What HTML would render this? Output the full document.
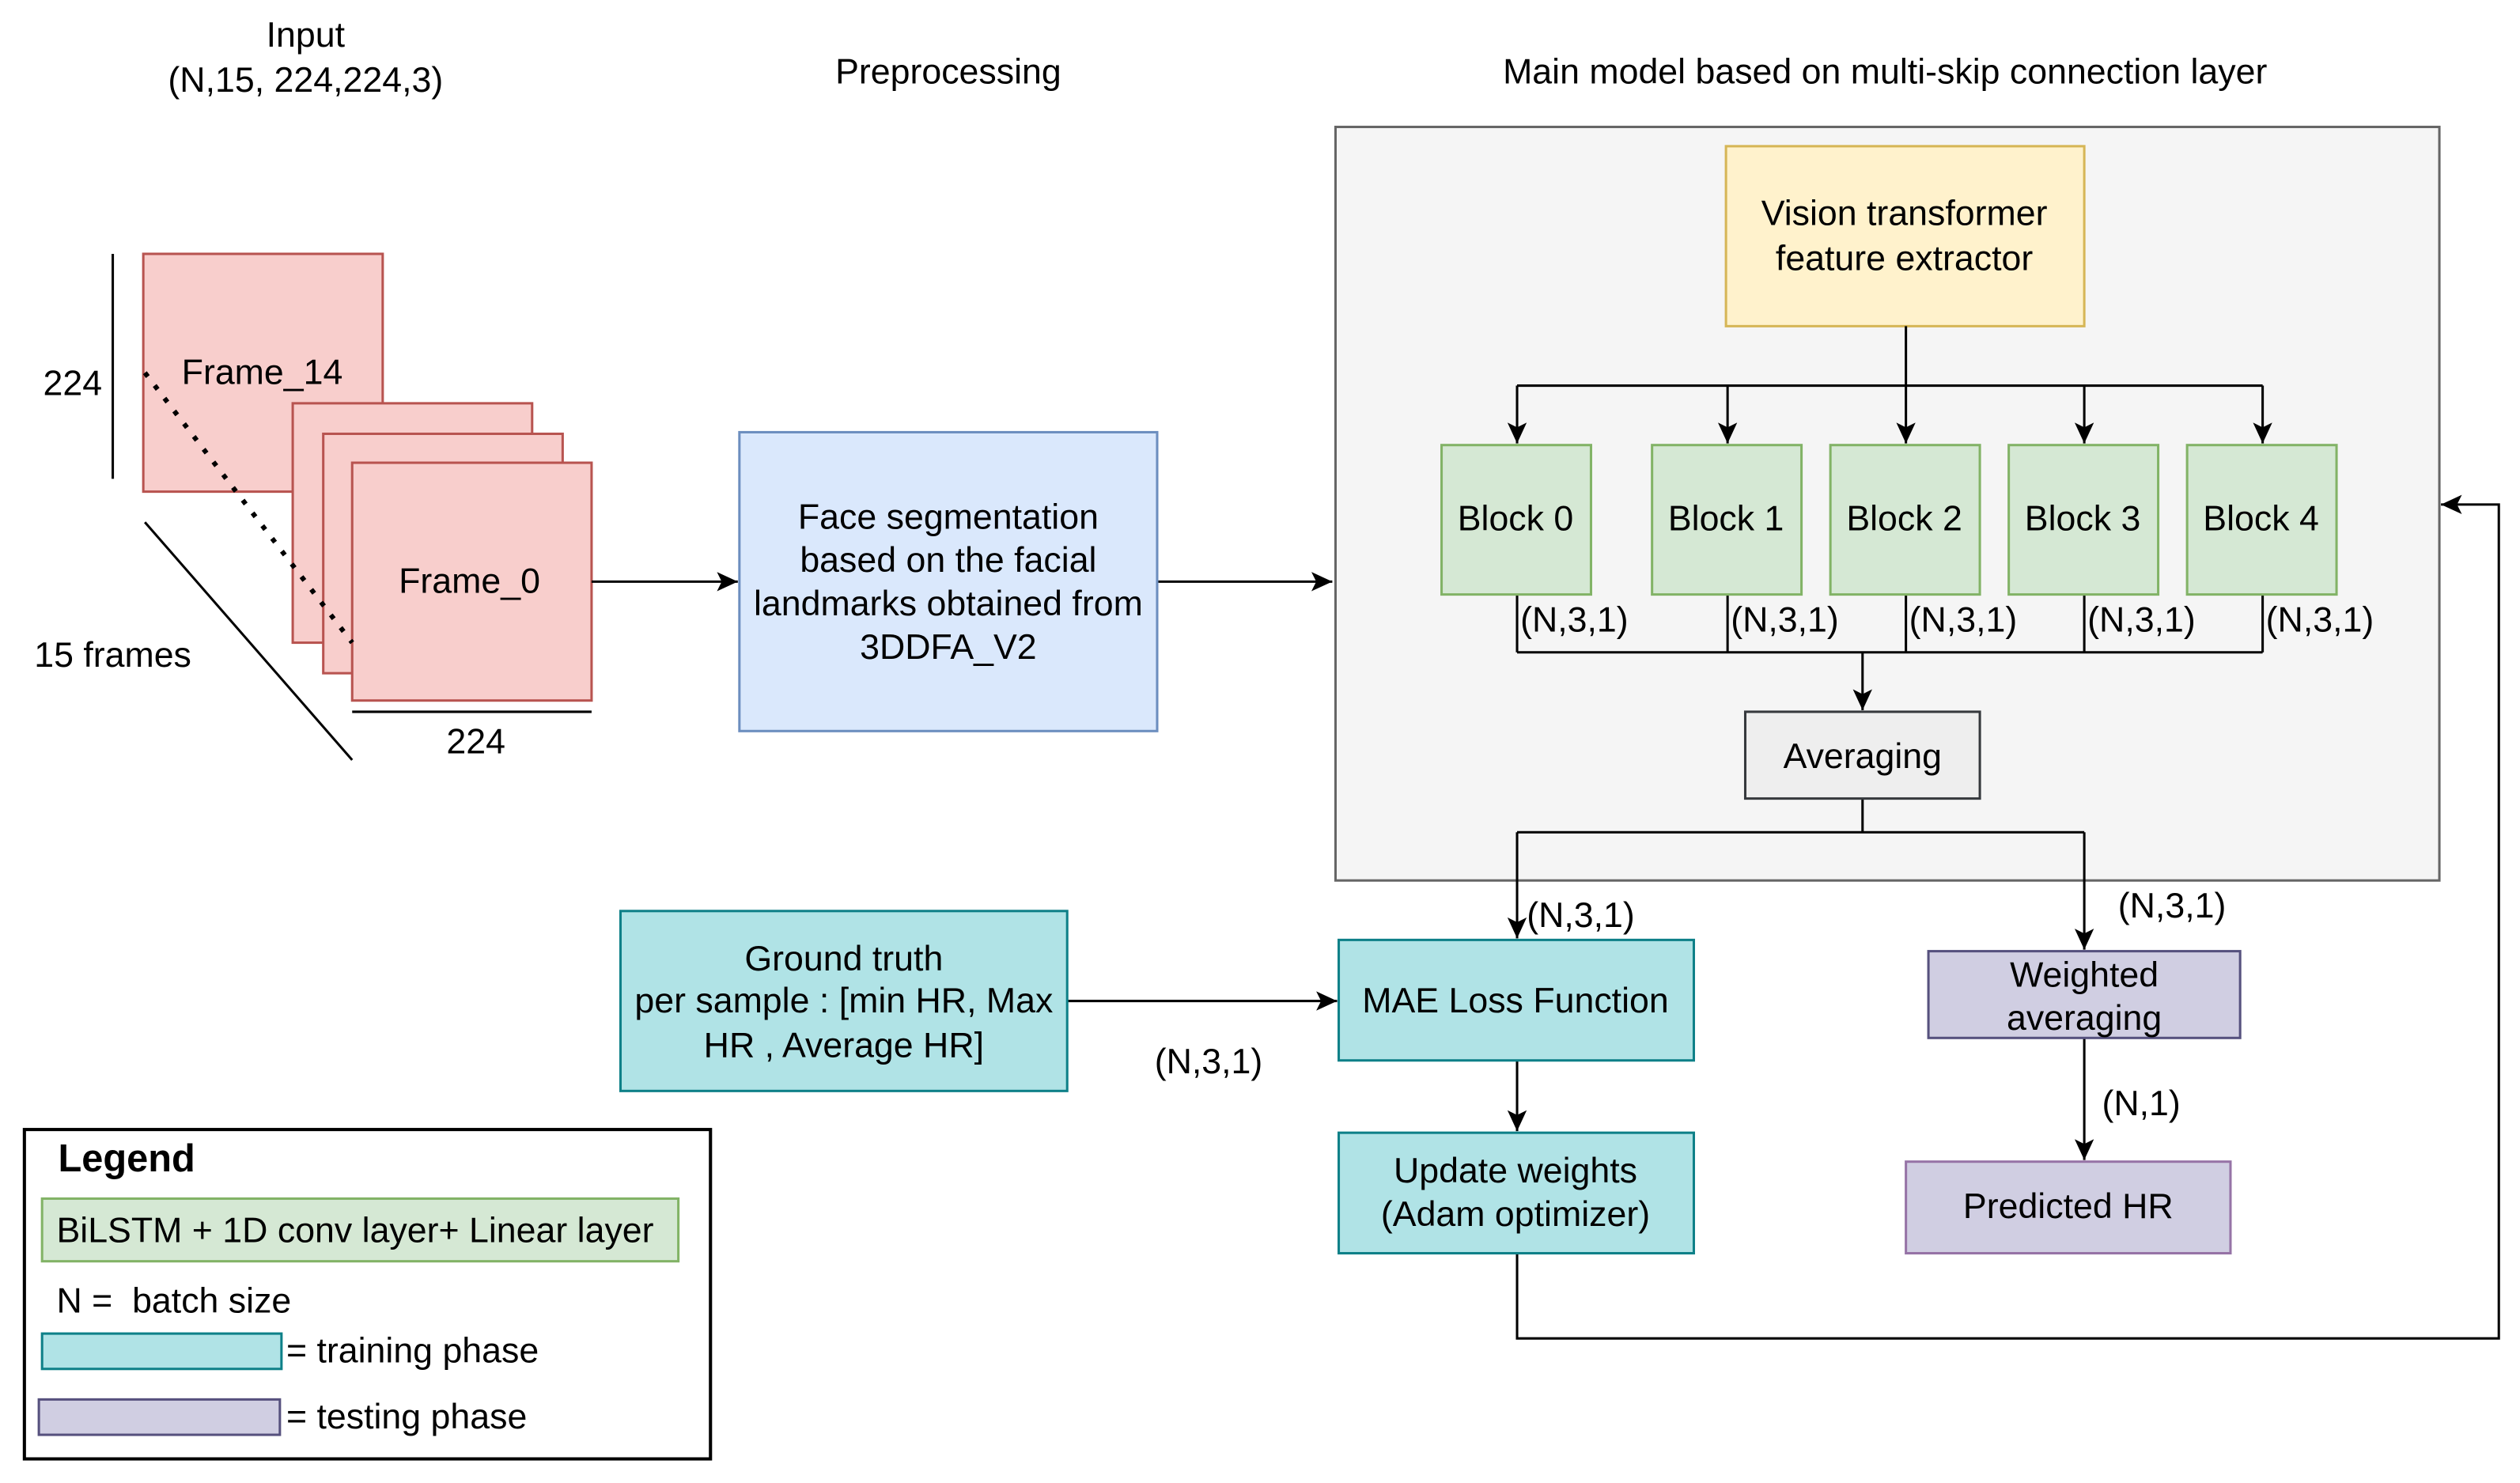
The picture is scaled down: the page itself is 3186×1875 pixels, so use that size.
<!DOCTYPE html>
<html><head><meta charset="utf-8"><style>
html,body{margin:0;padding:0;background:#fff;}
svg{display:block;}
text{font-family:"Liberation Sans",Arial,sans-serif;font-size:22px;fill:#000;}
</style></head><body>
<svg width="3186" height="1875" viewBox="0 0 1568 923" xmlns="http://www.w3.org/2000/svg">
<defs><marker id="a" markerWidth="14" markerHeight="14" refX="13" refY="7" orient="auto" markerUnits="userSpaceOnUse"><path d="M0,1 L13,7 L0,13 L3,7 z" fill="#000"/></marker></defs>
<g text-anchor="middle">
<text x="190" y="29">Input</text>
<text x="190" y="57">(N,15, 224,224,3)</text>
<text x="590" y="52">Preprocessing</text>
<text x="1173" y="52">Main model based on multi-skip connection layer</text>
</g>
<g fill="#f8cecc" stroke="#b85450" stroke-width="1.5">
<rect x="89" y="158" width="149" height="148"/>
<rect x="182" y="251" width="149" height="149"/>
<rect x="201" y="270" width="149" height="149"/>
<rect x="219" y="288" width="149" height="148"/>
</g>
<text x="163" y="239" text-anchor="middle">Frame_14</text>
<text x="292" y="369" text-anchor="middle">Frame_0</text>
<line x1="70" y1="158" x2="70" y2="298" stroke="#000" stroke-width="1.5"/>
<text x="45" y="246" text-anchor="middle">224</text>
<line x1="90" y1="325" x2="219" y2="473" stroke="#000" stroke-width="1.5"/>
<text x="70" y="415" text-anchor="middle">15 frames</text>
<line x1="219" y1="443" x2="368" y2="443" stroke="#000" stroke-width="1.5"/>
<text x="296" y="469" text-anchor="middle">224</text>
<line x1="90" y1="232" x2="219" y2="400" stroke="#000" stroke-width="3" stroke-dasharray="3,7"/>
<g stroke="#000" stroke-width="1.5" fill="none">
<line x1="368" y1="362" x2="459" y2="362" marker-end="url(#a)"/>
<line x1="720" y1="362" x2="829" y2="362" marker-end="url(#a)"/>
</g>
<rect x="460" y="269" width="260" height="186" fill="#dae8fc" stroke="#6c8ebf" stroke-width="1.5"/>
<g text-anchor="middle">
<text x="590" y="329">Face segmentation</text>
<text x="590" y="356">based on the facial</text>
<text x="590" y="383">landmarks obtained from</text>
<text x="590" y="410">3DDFA_V2</text>
</g>
<rect x="831" y="79" width="687" height="469" fill="#f5f5f5" stroke="#666" stroke-width="1.5"/>
<rect x="1074" y="91" width="223" height="112" fill="#fff2cc" stroke="#d6b656" stroke-width="1.5"/>
<text x="1185" y="140" text-anchor="middle">Vision transformer</text>
<text x="1185" y="168" text-anchor="middle">feature extractor</text>
<g stroke="#000" stroke-width="1.5" fill="none">
<line x1="1186" y1="203" x2="1186" y2="240"/>
<line x1="944" y1="240" x2="1408" y2="240"/>
<line x1="944" y1="240" x2="944" y2="276" marker-end="url(#a)"/>
<line x1="1075" y1="240" x2="1075" y2="276" marker-end="url(#a)"/>
<line x1="1186" y1="240" x2="1186" y2="276" marker-end="url(#a)"/>
<line x1="1297" y1="240" x2="1297" y2="276" marker-end="url(#a)"/>
<line x1="1408" y1="240" x2="1408" y2="276" marker-end="url(#a)"/>
<path d="M944,370V406M1075,370V406M1186,370V406M1297,370V406M1408,370V406M944,406H1408"/>
<line x1="1159" y1="406" x2="1159" y2="442" marker-end="url(#a)"/>
<path d="M1159,497V518M944,518H1297"/>
<line x1="944" y1="518" x2="944" y2="584" marker-end="url(#a)"/>
<line x1="1297" y1="518" x2="1297" y2="591" marker-end="url(#a)"/>
<line x1="1297" y1="646" x2="1297" y2="722" marker-end="url(#a)"/>
<line x1="664" y1="623" x2="832" y2="623" marker-end="url(#a)"/>
<line x1="944" y1="660" x2="944" y2="704" marker-end="url(#a)"/>
<path d="M944,780V833H1555V314H1519" marker-end="url(#a)"/>
</g>
<g fill="#d5e8d4" stroke="#82b366" stroke-width="1.5">
<rect x="897" y="277" width="93" height="93"/>
<rect x="1028" y="277" width="93" height="93"/>
<rect x="1139" y="277" width="93" height="93"/>
<rect x="1250" y="277" width="93" height="93"/>
<rect x="1361" y="277" width="93" height="93"/>
</g>
<g text-anchor="middle">
<text x="943" y="330">Block 0</text>
<text x="1074" y="330">Block 1</text>
<text x="1185" y="330">Block 2</text>
<text x="1296" y="330">Block 3</text>
<text x="1407" y="330">Block 4</text>
</g>
<g>
<text x="946" y="393">(N,3,1)</text>
<text x="1077" y="393">(N,3,1)</text>
<text x="1188" y="393">(N,3,1)</text>
<text x="1299" y="393">(N,3,1)</text>
<text x="1410" y="393">(N,3,1)</text>
</g>
<rect x="1086" y="443" width="146" height="54" fill="#eeeeee" stroke="#36393d" stroke-width="1.5"/>
<text x="1159" y="478" text-anchor="middle">Averaging</text>
<rect x="833" y="585" width="221" height="75" fill="#b0e3e6" stroke="#0e8088" stroke-width="1.5"/>
<text x="943" y="630" text-anchor="middle">MAE Loss Function</text>
<text x="950" y="577">(N,3,1)</text>
<text x="1318" y="571">(N,3,1)</text>
<rect x="1200" y="592" width="194" height="54" fill="#d0cee2" stroke="#56517e" stroke-width="1.5"/>
<text x="1297" y="614" text-anchor="middle">Weighted</text>
<text x="1297" y="641" text-anchor="middle">averaging</text>
<text x="1308" y="694">(N,1)</text>
<rect x="1186" y="723" width="202" height="57" fill="#d0cee2" stroke="#9673a6" stroke-width="1.5"/>
<text x="1287" y="758" text-anchor="middle">Predicted HR</text>
<rect x="386" y="567" width="278" height="112" fill="#b0e3e6" stroke="#0e8088" stroke-width="1.5"/>
<g text-anchor="middle">
<text x="525" y="604">Ground truth</text>
<text x="525" y="630">per sample : [min HR, Max</text>
<text x="525" y="658">HR , Average HR]</text>
</g>
<text x="752" y="668" text-anchor="middle">(N,3,1)</text>
<rect x="833" y="705" width="221" height="75" fill="#b0e3e6" stroke="#0e8088" stroke-width="1.5"/>
<text x="943" y="736" text-anchor="middle">Update weights</text>
<text x="943" y="763" text-anchor="middle">(Adam optimizer)</text>
<rect x="15" y="703" width="427" height="205" fill="#fff" stroke="#000" stroke-width="2"/>
<text x="36" y="729" style="font-weight:bold;font-size:24px">Legend</text>
<rect x="26" y="746" width="396" height="39" fill="#d5e8d4" stroke="#82b366" stroke-width="1.5"/>
<text x="35" y="773">BiLSTM + 1D conv layer+ Linear layer</text>
<text x="35" y="817">N =&#160; batch size</text>
<rect x="26" y="830" width="149" height="22" fill="#b0e3e6" stroke="#0e8088" stroke-width="1.5"/>
<text x="178" y="848">= training phase</text>
<rect x="24" y="871" width="150" height="22" fill="#d0cee2" stroke="#56517e" stroke-width="1.5"/>
<text x="178" y="889">= testing phase</text>
</svg>
</body></html>
